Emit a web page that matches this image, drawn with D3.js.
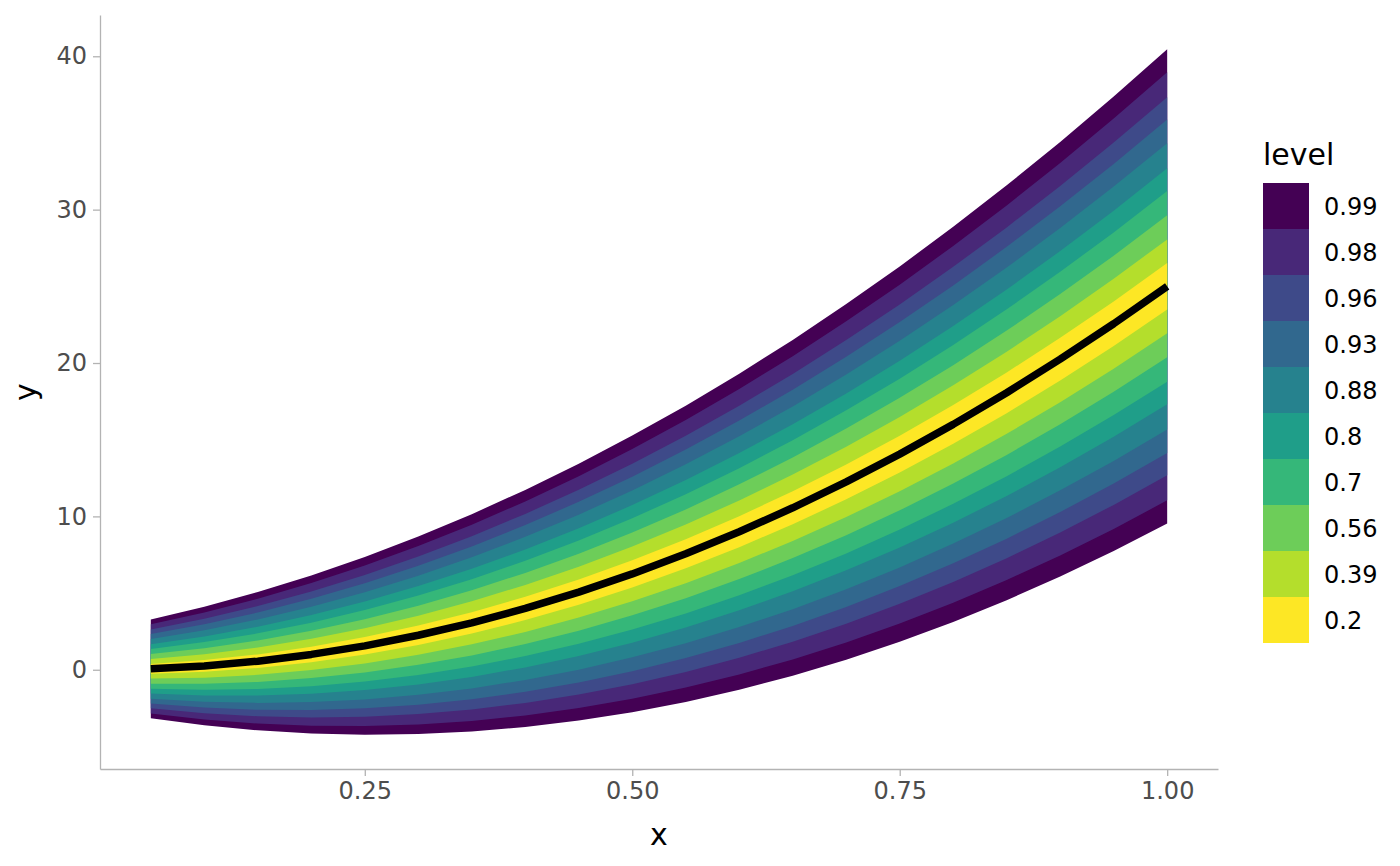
<!DOCTYPE html>
<html>
<head>
<meta charset="utf-8">
<script src="https://cdn.jsdelivr.net/npm/d3@7"></script>
<style>
  html, body { margin: 0; padding: 0; background: #fff; }
  svg { display: block; font-family: "DejaVu Sans", sans-serif; }
</style>
</head>
<body>
<svg id="chart" width="1400" height="866"></svg>
<script>
// ---- data ----
const xs = [0.05, 0.10, 0.15, 0.20, 0.25, 0.30, 0.35, 0.40, 0.45, 0.50,
            0.55, 0.60, 0.65, 0.70, 0.75, 0.80, 0.85, 0.90, 0.95, 1.00];
const median = [0.06, 0.25, 0.56, 1.00, 1.56, 2.25, 3.06, 4.00, 5.06, 6.25,
                7.56, 9.00, 10.56, 12.25, 14.06, 16.00, 18.06, 20.25, 22.56, 25.00];
const spread = [1.25, 1.50, 1.75, 2.00, 2.25, 2.50, 2.75, 3.00, 3.25, 3.50,
                3.75, 4.00, 4.25, 4.50, 4.75, 5.00, 5.25, 5.50, 5.75, 6.00];
const levels = ["0.99", "0.98", "0.96", "0.93", "0.88", "0.8", "0.7", "0.56", "0.39", "0.2"];
const levelHalfWidth = [2.576, 2.326, 2.054, 1.812, 1.555, 1.282, 1.036, 0.772, 0.510, 0.253];
const levelColors = ["#440154", "#482878", "#3E4A89", "#31688E", "#26828E",
                     "#1F9E89", "#35B779", "#6DCD59", "#B4DE2C", "#FDE725"];
const xTicks = [0.25, 0.50, 0.75, 1.00];
const yTicks = [0, 10, 20, 30, 40];

// ---- layout ----
const svg = d3.select("#chart");
const panel = { left: 100, right: 1218, top: 15, bottom: 769 };

const points = xs.map((x, i) => ({ x, m: median[i], s: spread[i] }));
const bands = levels.map((lv, j) => ({ level: lv, w: levelHalfWidth[j], color: levelColors[j] }));

const xMin = d3.min(xs), xMax = d3.max(xs);
const xPad = (xMax - xMin) * 0.05;
const yLo = d3.min(points, p => p.m - bands[0].w * p.s);
const yHi = d3.max(points, p => p.m + bands[0].w * p.s);
const yPad = (yHi - yLo) * 0.05;

const xScale = d3.scaleLinear().domain([xMin - xPad, xMax + xPad]).range([panel.left, panel.right]);
const yScale = d3.scaleLinear().domain([yLo - yPad, yHi + yPad]).range([panel.bottom, panel.top]);

// ---- ribbons (widest first) ----
const g = svg.append("g");
bands.forEach(b => {
  const area = d3.area()
    .x(p => xScale(p.x))
    .y0(p => yScale(p.m - b.w * p.s))
    .y1(p => yScale(p.m + b.w * p.s));
  g.append("path").datum(points)
    .attr("d", area)
    .attr("fill", b.color);
});

// ---- median line ----
g.append("path").datum(points)
  .attr("d", d3.line().x(p => xScale(p.x)).y(p => yScale(p.m)))
  .attr("fill", "none")
  .attr("stroke", "#000")
  .attr("stroke-width", 7.5)
  .attr("stroke-linejoin", "round")
  .attr("stroke-linecap", "butt");

// ---- axes ----
const axisColor = "#b3b3b3";
const textColor = "#4d4d4d";

const xAxis = svg.append("g")
  .attr("transform", `translate(0,${panel.bottom})`)
  .call(d3.axisBottom(xScale).tickValues(xTicks).tickFormat(d3.format(".2f"))
        .tickSize(7).tickSizeOuter(0).tickPadding(6));
const yAxis = svg.append("g")
  .attr("transform", `translate(${panel.left},0)`)
  .call(d3.axisLeft(yScale).tickValues(yTicks).tickFormat(d3.format("d"))
        .tickSize(7).tickSizeOuter(0).tickPadding(6));

[xAxis, yAxis].forEach(ax => {
  ax.select(".domain").attr("stroke", axisColor).attr("stroke-width", 1.3);
  ax.selectAll(".tick line").attr("stroke", axisColor).attr("stroke-width", 1.3);
  ax.selectAll(".tick text")
    .attr("fill", textColor)
    .style("font-size", "24px")
    .style("font-family", "'DejaVu Sans', sans-serif");
});

// ---- axis titles ----
svg.append("text")
  .attr("x", (panel.left + panel.right) / 2)
  .attr("y", 845)
  .attr("text-anchor", "middle")
  .style("font-size", "30px")
  .attr("fill", "#000")
  .text("x");

svg.append("text")
  .attr("transform", `translate(36,${(panel.top + panel.bottom) / 2}) rotate(-90)`)
  .attr("text-anchor", "middle")
  .style("font-size", "30px")
  .attr("fill", "#000")
  .text("y");

// ---- legend ----
const legend = svg.append("g").attr("transform", "translate(1263,0)");
legend.append("text")
  .attr("x", 0).attr("y", 165)
  .style("font-size", "30px")
  .attr("fill", "#000")
  .text("level");
const keySize = 46, keyTop = 183;
bands.forEach((b, j) => {
  legend.append("rect")
    .attr("x", 0).attr("y", keyTop + j * keySize)
    .attr("width", keySize).attr("height", keySize)
    .attr("fill", b.color);
  legend.append("text")
    .attr("x", 61).attr("y", keyTop + j * keySize + keySize / 2)
    .attr("dy", "0.36em")
    .style("font-size", "24px")
    .attr("fill", "#000")
    .text(b.level);
});
</script>
</body>
</html>
